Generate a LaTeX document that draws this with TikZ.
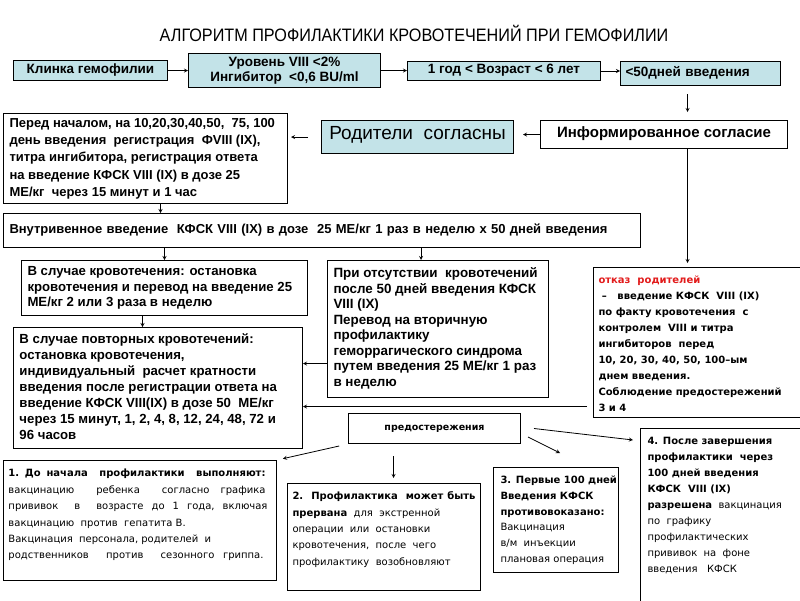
\documentclass[tikz,border=0pt]{standalone}
\usepackage{fontspec}
\setmainfont{Liberation Sans}
\newfontfamily\verd{DejaVu Sans}
\newfontfamily\narrowsf[FakeStretch=0.9]{Liberation Sans}
\definecolor{boxcyan}{RGB}{195,227,232}
\definecolor{refred}{RGB}{226,28,28}
\newcommand{\boxtxt}[3]{\parbox[t][#2pt][t]{#1pt}{\begin{tabular}[t]{@{}l@{}}#3\end{tabular}}}
\newcommand{\boxmid}[3]{\parbox[t][#2pt][c]{#1pt}{\begin{tabular}[t]{@{}l@{}}#3\end{tabular}}}

\begin{document}
\begin{tikzpicture}[x=1pt, y=-1pt, >=stealth, line width=0.8pt,
  every node/.style={inner sep=0pt},
  cyanbox/.style={draw, fill=boxcyan, line width=1pt, anchor=north west, font=\bfseries\fontsize{13.5}{15.5}\selectfont},
  oneline/.style={text height=0.75em, text depth=0.22em},
  arialbox/.style={draw, fill=white, line width=1pt, anchor=north west, inner xsep=6pt, inner ysep=3pt, font=\bfseries\fontsize{13.2}{15.8}\selectfont},
  verdbox/.style={draw, fill=white, line width=1pt, anchor=north west, inner xsep=5pt, inner ysep=5pt, font=\verd\fontsize{10}{16.2}\selectfont}]
\useasboundingbox (0,0) rectangle (800,600);
\fill[white] (0,0) rectangle (800,600);
\clip (0,0) rectangle (800,600);

\node (title) at (414,33) {\narrowsf\fontsize{18}{20}\selectfont АЛГОРИТМ ПРОФИЛАКТИКИ КРОВОТЕЧЕНИЙ ПРИ\ ГЕМОФИЛИИ};

% top row
\node[cyanbox, oneline, minimum width=154pt, minimum height=20pt] (clinic) at (13,60) {Клинка гемофилии};
\node[cyanbox, minimum width=192pt, minimum height=34pt, align=center] (level) at (188,53) {Уровень VIII <2\%\\Ингибитор\ \ <0,6 BU/ml};
\node[cyanbox, oneline, minimum width=193pt, minimum height=19pt] (age) at (407,61) {1 год < Возраст < 6 лет};
\node[cyanbox, oneline, text width=150pt, inner xsep=5pt, minimum height=24pt, align=left] (days) at (620,61) {<50дней введения};
\draw[->] (clinic.east) -- (level.west);
\draw[->] (level.east) -- (level.east -| age.west);
\draw[->] (age.east) -- (age.east -| days.west);

% consent
\node[cyanbox, oneline, minimum width=192pt, minimum height=33pt, font=\fontsize{19}{22}\selectfont] (parents) at (321,120) {Родители\ \ согласны};
\node[arialbox, oneline, inner sep=0pt, minimum width=247pt, minimum height=28pt, font=\bfseries\fontsize{15}{17}\selectfont] (consent) at (540,120) {Информированное согласие};
\draw[->] ([xshift=-13pt,yshift=-8pt]days.south) -- ([xshift=23.5pt,yshift=8pt]consent.north);
\draw[->, shorten >=9pt] (consent.west) -- (consent.west -| parents.east);

% left column
\node[arialbox, font=\bfseries\fontsize{13}{17.3}\selectfont] (before) at (3,113) {\boxmid{272}{84}{Перед началом, на 10,20,30,40,50,\ \ 75, 100\\
день введения\ \ регистрация\ \ ФVIII (IX),\\
титра\ ингибитора, регистрация ответа\\
на введение КФСК VIII (IX) в дозе 25\\
МЕ/кг\ \ через 15 минут\ и 1 час}};
\draw[->, shorten <=13pt, shorten >=3pt] (parents.west) -- (parents.west -| before.east);

\node[arialbox, font=\bfseries\fontsize{13}{15}\selectfont, text width=625pt, minimum height=34pt, align=left] (wide) at (3,213) {Внутривенное введение\ \ КФСК VIII (IX) в дозе\ \ 25 МЕ/кг 1 раз в неделю х 50 дней введения};
\coordinate (b1) at ([xshift=15pt]before.south);
\draw[->] (b1) -- (b1 |- wide.north);

\node[arialbox, font=\bfseries\fontsize{13.2}{15.5}\selectfont] (bleed) at (21,260) {\boxmid{274}{49}{В случае кровотечения: остановка\\
кровотечения и перевод на введение 25\\
МЕ/кг 2 или 3 раза в неделю}};
\node[arialbox, font=\bfseries\fontsize{13.2}{16}\selectfont] (repeat) at (13,327) {\boxmid{277}{115}{В случае повторных кровотечений:\\
остановка кровотечения,\\
индивидуальный\ \ расчет кратности\\
введения после регистрации ответа на\\
введение КФСК VIII(IX) в дозе 50\ \ МЕ/кг\\
через 15 минут, 1, 2, 4, 8, 12, 24, 48, 72 и\\
96 часов}};
\node[arialbox, font=\bfseries\fontsize{13.4}{15.5}\selectfont] (nobleed) at (327,260) {\boxmid{209}{131}{При отсутствии\ \ кровотечений\\
после 50 дней введения КФСК\\
VIII (IX)\\
Перевод на вторичную\\
профилактику\\
геморрагического синдрома\\
путем введения 25 МЕ/кг 1 раз\\
в неделю}};
\draw[->] (wide.south -| bleed.north) -- (bleed.north);
\coordinate (n1) at ([xshift=-17pt]nobleed.north);
\draw[->] (n1 |- wide.south) -- (n1);
\coordinate (b2) at ([xshift=-22pt]bleed.south);
\draw[->] (b2) -- (b2 |- repeat.north);
\coordinate (r1) at ([yshift=-34.5pt]nobleed.west);
\draw[->] (r1) -- (r1 -| repeat.east);

% refusal
\node[verdbox, font=\verd\bfseries\fontsize{10}{16}\selectfont] (refuse) at (593,267) {\boxtxt{202}{140}{\textcolor{refred}{отказ\ \ родителей}\\
\ –\ \ \ введение КФСК\ \ VIII (IX)\\
по факту кровотечения\ \ с\\
контролем\ \ VIII и титра\\
ингибиторов\ \ перед\\
10, 20, 30, 40, 50, 100–ым\\
днем введения.\\
Соблюдение предостережений\\
3 и 4}};
\draw[->] ([xshift=23.5pt]consent.south) -- ([xshift=-12pt,yshift=4pt]refuse.north);
\coordinate (r2) at ([yshift=-64pt,xshift=-6pt]refuse.west);
\draw[->] (r2) -- (r2 -| repeat.east);

% warnings
\node[verdbox, inner sep=0pt, minimum width=172pt, minimum height=30pt, font=\verd\bfseries\fontsize{9.5}{12}\selectfont] (warn) at (348,413) {предостережения};
\node[verdbox, font=\verd\fontsize{10}{16.4}\selectfont] (note1) at (3,460) {\boxtxt{263}{110}{\makebox[257pt][s]{\bfseries 1.\ До начала\ \ профилактики\ \ выполняют:}\\
\makebox[257pt][s]{вакцинацию\ \ ребенка\ \ согласно графика}\\
\makebox[259pt][s]{прививок\ \ в\ \ возрасте до 1 года,\ включая}\\
вакцинацию\ \ против\ \ гепатита В.\\
Вакцинация\ \ персонала, родителей\ \ и\\
\makebox[255pt][s]{родственников\ \ против\ \ сезонного гриппа.}}};
\node[verdbox, font=\verd\fontsize{10}{16.3}\selectfont] (note2) at (287,483) {\boxtxt{183}{97}{\makebox[183pt][s]{\bfseries 2.\ \ Профилактика\ \ может быть}\\
\textbf{прервана}\ \ для\ \ экстренной\\
операции\ \ или\ \ остановки\\
кровотечения,\ \ после\ \ чего\\
профилактику\ \ возобновляют}};
\node[verdbox, inner xsep=7pt, font=\verd\fontsize{10}{15.8}\selectfont] (note3) at (493,467) {\boxtxt{111}{95}{\textbf{3. Первые 100 дней}\\
\textbf{Введения КФСК}\\
\textbf{противовоказано:}\\
Вакцинация\\
в/м\ \ инъекции\\
плановая\ операция}};
\node[verdbox, inner xsep=7pt, font=\verd\fontsize{10}{16}\selectfont] (note4) at (640,428) {\boxtxt{151}{172}{\textbf{4. После завершения}\\
\textbf{профилактики\ \ через}\\
\textbf{100 дней введения}\\
\textbf{КФСК\ \ VIII (IX)}\\
\textbf{разрешена}\ \ вакцинация\\
по\ \ графику\\
профилактических\\
прививок\ \ на\ \ фоне\\
введения\ \ \ КФСК}};
\path (warn.south) ++(-41,12) coordinate (w2);
\draw[->, shorten >=5pt] (w2) -- (w2 |- note2.north);
\draw[->, shorten <=9pt, shorten >=6pt] (warn.south west) -- (note1.north east);
\draw[->] ([xshift=7pt,yshift=7pt]warn.south east) -- ([xshift=4pt,yshift=14pt]note3.north);
\draw[->] ([xshift=13pt]warn.east) -- ([xshift=-7pt,yshift=-12pt]note4.north west);
\end{tikzpicture}
\end{document}
